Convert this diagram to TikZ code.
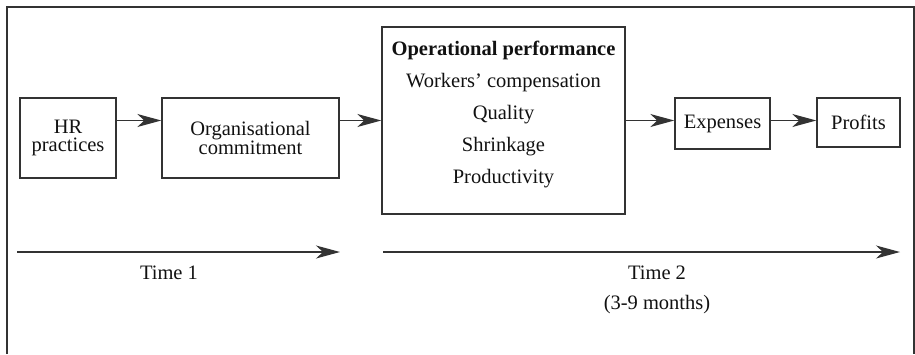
\documentclass[tikz,border=0pt]{standalone}
\usepackage{fontspec}
\setmainfont{Liberation Serif}
\usepackage{tikz}
\usetikzlibrary{arrows.meta, positioning}
\definecolor{linegray}{HTML}{333333}
\definecolor{textgray}{HTML}{111111}
\tikzset{
  stagebox/.style={draw=linegray, line width=1.4pt, align=center, text=textgray, inner sep=0pt,
    font={\fontsize{20.5}{18.5}\selectfont}},
  flow/.style={draw=linegray, line width=1.4pt, -{Stealth[length=24pt, width=13pt, inset=7pt]}},
  timelabel/.style={text=textgray, font={\fontsize{20.5}{22}\selectfont}}
}
\begin{document}
\begin{tikzpicture}[x=1pt, y=-1pt]
\useasboundingbox (0,0) rectangle (915,354);
\draw[linegray, line width=1.4pt] (7,354) -- (7,7) -- (914,7) -- (914,354);
\node[stagebox, minimum width=96, minimum height=80] (hr) at (68,138) {HR\\practices};
\node[stagebox, minimum width=177, minimum height=80] (org) at (250.5,138) {Organisational\\commitment};
\node[stagebox, minimum width=243, minimum height=187] (op) at (503.5,120.5) {};
\node[align=center, text=textgray, font={\fontsize{20.5}{32}\selectfont}] (opitems) at (503.5,114)
  {\textbf{Operational performance}\\Workers’ compensation\\Quality\\Shrinkage\\Productivity};
\node[stagebox, minimum width=95, minimum height=51] (exp) at (722.5,123.5) {Expenses};
\node[stagebox, minimum width=83, minimum height=49] (prof) at (858.5,122.5) {Profits};
\draw[flow] (hr.east |- op.west) -- (org.west |- op.west);
\draw[flow] (org.east |- op.west) -- (op.west);
\draw[flow] (op.east) -- (exp.west |- op.east);
\draw[flow] (exp.east |- op.east) -- (prof.west |- op.east);
\foreach \n/\xa/\xb in {one/17/340, two/383/900} {
    \coordinate (t\n a) at (\xa,252);
    \coordinate (t\n b) at (\xb,252);
    \draw[flow] (t\n a) -- (t\n b);
}
\node[timelabel] (time1) at (169,273) {Time 1};
\node[timelabel] (time2) at (657,273) {Time 2};
\node[timelabel] (months) at (657,305) {(3-9 months)};
\end{tikzpicture}
\end{document}
